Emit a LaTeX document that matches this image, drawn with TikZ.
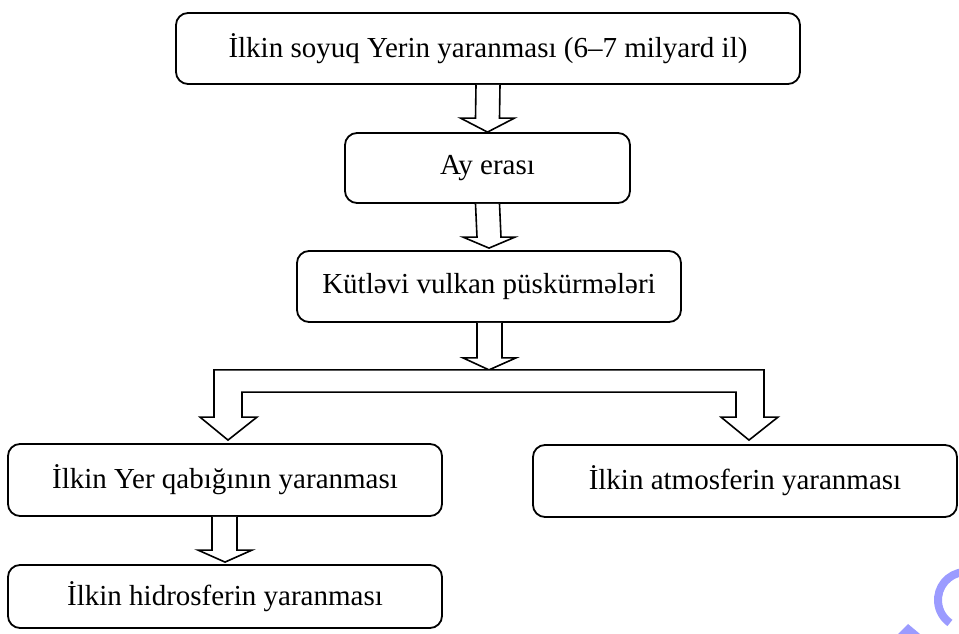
\documentclass[tikz,border=0pt]{standalone}
\usepackage{fontspec}
\setmainfont{Liberation Serif}
\usetikzlibrary{calc}
\definecolor{markblue}{RGB}{155,155,255}
\tikzset{
  stagebox/.style={draw, rounded corners=12pt, line width=1.8pt, inner sep=0pt, align=center, font=\fontsize{29}{34}\selectfont},
  hollowarrow/.style={draw, line width=1.6pt, fill=white, line join=miter},
  watermark/.style={markblue, line width=8pt}
}

\begin{document}
\begin{tikzpicture}[x=1pt, y=1pt]
  \useasboundingbox (0,0) rectangle (959,634);
  \node[stagebox, minimum width=624pt, minimum height=71pt] (soyuq) at (488,585.5) {İlkin soyuq Yerin yaranması (6–7 milyard il)};
  \node[stagebox, minimum width=285pt, minimum height=70pt] (ay) at (487.5,466) {Ay erası};
  \node[stagebox, minimum width=384pt, minimum height=71pt] (vulkan) at (489,347.5) {Kütləvi vulkan püskürmələri};
  \node[stagebox, minimum width=434pt, minimum height=72pt] (yer) at (225,154) {İlkin Yer qabığının yaranması};
  \node[stagebox, minimum width=434pt, minimum height=63pt] (hidro) at (225,37.5) {İlkin hidrosferin yaranması};
  \node[stagebox, minimum width=424pt, minimum height=72pt] (atmos) at (745,153) {İlkin atmosferin yaranması};

  % hollow block arrows
  \draw[hollowarrow] ($(soyuq.south)+(-12,0)$) -- ($(ay.north)+(-12,14)$) -- ($(ay.north)+(-27,14)$) -- (ay.north)
    -- ($(ay.north)+(27,14)$) -- ($(ay.north)+(12,14)$) -- ($(soyuq.south)+(12,0)$);
  \draw[hollowarrow] ($(ay.south)+(-12,0)$) -- ($(vulkan.north)+(-12,13)$) -- ($(vulkan.north)+(-26,13)$) -- ($(vulkan.north)+(0,2)$)
    -- ($(vulkan.north)+(26,13)$) -- ($(vulkan.north)+(12,13)$) -- ($(ay.south)+(12,0)$);
  \draw[hollowarrow] ($(yer.south)+(-13,0)$) -- ($(hidro.north)+(-13,14)$) -- ($(hidro.north)+(-27,14)$) -- ($(hidro.north)+(0,2)$)
    -- ($(hidro.north)+(27,14)$) -- ($(hidro.north)+(12,14)$) -- ($(yer.south)+(12,0)$);

  % fork under the eruptions
  \coordinate (split) at ($(vulkan.south)+(0,-47)$);
  \coordinate (ltip) at ($(yer.north)+(3,3)$);
  \coordinate (rtip) at ($(atmos.north)+(4,4)$);
  \draw[hollowarrow] ($(vulkan.south)+(-12,0)$) -- ($(split)+(-12,12)$) -- ($(split)+(-26,12)$) -- (split)
    -- ($(split)+(27,12)$) -- ($(split)+(13,12)$) -- ($(vulkan.south)+(13,0)$);
  \draw[hollowarrow] ($(ltip)+(-28,23)$) -- (ltip) -- ($(ltip)+(29,23)$) -- ($(ltip)+(14,23)$)
    |- ($(rtip)+(-13,48)$) -- ($(rtip)+(-13,23)$) -- ($(rtip)+(-28,23)$) -- (rtip)
    -- ($(rtip)+(29,23)$) -- ($(rtip)+(15,23)$) |- (split) -| ($(ltip)+(-14,23)$) -- cycle;

  % corner mark
  \draw[watermark] (966,34) ++(95:28) arc (95:235:28);
  \fill[markblue] (898,0) -- (908,10) -- (920,0) -- cycle;
\end{tikzpicture}
\end{document}
